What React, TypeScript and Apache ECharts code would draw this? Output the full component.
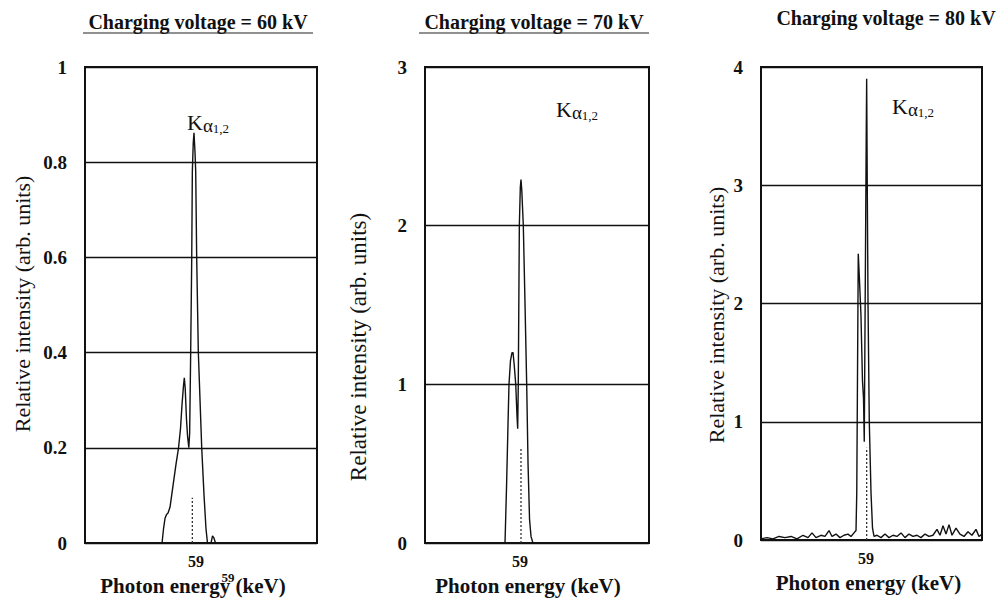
import React, { useEffect, useRef } from "react";
import * as echarts from "echarts";

const FONT = '"Liberation Serif", "Times New Roman", serif';

const titles = ["Charging voltage = 60 kV", "Charging voltage = 70 kV", "Charging voltage = 80 kV"];
const underlined = [true, true, false];
const yMax = [1, 3, 4];
const yInterval = [0.2, 1, 1];
const xMin = [44.2, 46.33, 45.0];
const xMax = [75.13, 76.2, 74.47];
const xTickValues = [59];
const xName = "Photon energy (keV)";
const yName = "Relative intensity (arb. units)";

// [photon energy (keV), relative intensity]
const spectrum60: number[][] = [
  [44.2, 0], [54.47, 0], [54.67, 0.03], [54.87, 0.052], [55.07, 0.06], [55.27, 0.063],
  [55.53, 0.075], [55.93, 0.12], [56.33, 0.165], [56.67, 0.2], [56.93, 0.24], [57.13, 0.29],
  [57.33, 0.33], [57.44, 0.347], [57.56, 0.325], [57.73, 0.26], [57.87, 0.225], [58.04, 0.2],
  [58.15, 0.23], [58.29, 0.4], [58.43, 0.6], [58.51, 0.78], [58.63, 0.84], [58.73, 0.862],
  [58.87, 0.82], [58.96, 0.78], [59.09, 0.6], [59.31, 0.4], [59.76, 0.2], [60.07, 0.1],
  [60.33, 0.03], [60.53, 0], [61.0, 0], [61.2, 0.015], [61.4, 0.01], [61.6, 0], [75.13, 0],
];
const spectrum70: number[][] = [
  [46.33, 0], [57.0, 0], [57.2, 0.35], [57.4, 0.75], [57.53, 1.0], [57.73, 1.15], [57.93, 1.2],
  [58.07, 1.2], [58.23, 1.12], [58.43, 1.0], [58.6, 0.8], [58.69, 0.72], [58.77, 1.0],
  [58.91, 2.0], [59.04, 2.24], [59.13, 2.29], [59.24, 2.22], [59.44, 2.0], [59.67, 1.5],
  [59.89, 1.0], [60.07, 0.5], [60.27, 0.15], [60.47, 0.04], [60.73, 0], [76.2, 0],
];
const spectrum80: number[][] = [
  [45.0, 0.01], [45.8, 0.02], [46.6, 0.01], [47.4, 0.03], [48.2, 0.02], [49.0, 0.03],
  [49.8, 0.01], [50.6, 0.04], [51.27, 0.02], [51.8, 0.06], [52.33, 0.02], [53.0, 0.04],
  [53.53, 0.03], [54.07, 0.08], [54.47, 0.03], [55.0, 0.05], [55.53, 0.02], [56.07, 0.04],
  [56.6, 0.05], [57.0, 0.03], [57.4, 0.06], [57.67, 0.08], [57.77, 0.4], [57.85, 1.2],
  [57.97, 2.42], [58.13, 2.2], [58.33, 1.9], [58.53, 1.35], [58.67, 1.2], [58.77, 0.83],
  [58.89, 2.0], [59.03, 3.4], [59.09, 3.9], [59.17, 3.0], [59.27, 2.0], [59.44, 1.0],
  [59.67, 0.4], [59.87, 0.1], [60.07, 0.03], [60.47, 0.04], [61.0, 0.02], [61.53, 0.05],
  [62.07, 0.02], [62.6, 0.04], [63.13, 0.03], [63.67, 0.06], [64.2, 0.02], [64.73, 0.05],
  [65.27, 0.03], [65.8, 0.04], [66.33, 0.02], [66.87, 0.05], [67.4, 0.03], [67.93, 0.04],
  [68.47, 0.09], [68.87, 0.04], [69.27, 0.12], [69.67, 0.05], [70.07, 0.13], [70.47, 0.04],
  [71.0, 0.1], [71.53, 0.05], [72.07, 0.03], [72.6, 0.07], [73.13, 0.04], [73.67, 0.09],
  [74.07, 0.03], [74.47, 0.05],
];
const marker60: number[][] = [[58.51, 0], [58.51, 0.095]];
const marker70: number[][] = [[59.13, 0], [59.13, 0.6]];
const marker80: number[][] = [[59.09, 0], [59.09, 0.78]];

const spectra = [spectrum60, spectrum70, spectrum80];
const markers = [marker60, marker70, marker80];

export default function App() {
  const ref = useRef<HTMLDivElement>(null);
  useEffect(() => {
    document.body.style.margin = "0";
    if (!ref.current) return;
    const chart = echarts.init(ref.current, null, { renderer: "svg" });

    const grids = [
      { left: 85, top: 67, width: 232, height: 476 },
      { left: 425, top: 67, width: 224, height: 476 },
      { left: 761, top: 67, width: 221, height: 473 },
    ];
    const xNamePad = [[0, 16, 0, 0], [0, 18, 0, 0], [0, 6, 0, 0]];
    const titleCenters = [198, 534, 886];
    const titleY = [22, 22, 18];
    const yNamePos = [[22, 304, 22], [358, 347, 23], [716, 315, 22]];
    const kPos = [[187, 122], [556, 109], [892, 106]];

    const graphic: any[] = [];
    titles.forEach((t, i) => {
      graphic.push({
        type: "text",
        x: titleCenters[i],
        y: titleY[i],
        style: {
          text: t, fontFamily: FONT, fontWeight: "bold", fontSize: 20,
          fill: "#111", align: "center", verticalAlign: "middle",
        },
      });
      if (underlined[i]) {
        graphic.push({
          type: "line",
          shape: { x1: titleCenters[i] - 115, y1: 33, x2: titleCenters[i] + 115, y2: 33 },
          style: { stroke: "#222", lineWidth: 1.2 },
        });
      }
      graphic.push({
        type: "text",
        x: yNamePos[i][0],
        y: yNamePos[i][1],
        rotation: Math.PI / 2,
        style: {
          text: yName, fontFamily: FONT, fontSize: yNamePos[i][2],
          fill: "#111", align: "center", verticalAlign: "middle",
        },
      });
      graphic.push({
        type: "text",
        x: kPos[i][0],
        y: kPos[i][1],
        style: {
          text: "{k|K}{a|α}{s|1,2}",
          fill: "#111",
          verticalAlign: "middle",
          rich: {
            k: { fontFamily: FONT, fontSize: 22, lineHeight: 26, verticalAlign: "middle", fill: "#111" },
            a: { fontFamily: FONT, fontSize: 19, lineHeight: 24, verticalAlign: "bottom", fill: "#111" },
            s: { fontFamily: FONT, fontSize: 13, lineHeight: 13, verticalAlign: "bottom", fill: "#111" },
          },
        },
      });
    });
    graphic.push({
      type: "text",
      x: 228,
      y: 577,
      style: {
        text: "59", fontFamily: FONT, fontWeight: "bold", fontSize: 13,
        fill: "#111", align: "center", verticalAlign: "middle",
      },
    });

    const option: any = {
      animation: false,
      backgroundColor: "#fff",
      grid: grids.map((g) => ({ ...g, show: true, borderColor: "#111", borderWidth: 2, backgroundColor: "transparent" })),
      xAxis: grids.map((_, i) => ({
        type: "value",
        gridIndex: i,
        min: xMin[i],
        max: xMax[i],
        axisLine: { show: false },
        axisTick: { show: false },
        splitLine: { show: false },
        axisLabel: {
          customValues: xTickValues,
          fontFamily: FONT, fontWeight: "bold", fontSize: 16, color: "#111", margin: 10,
        },
        name: xName,
        nameLocation: "middle",
        nameGap: 32,
        nameTextStyle: {
          fontFamily: FONT, fontWeight: "bold", fontSize: 21, color: "#111",
          padding: xNamePad[i],
        },
      })),
      yAxis: grids.map((_, i) => ({
        type: "value",
        gridIndex: i,
        min: 0,
        max: yMax[i],
        interval: yInterval[i],
        axisLine: { show: false },
        axisTick: { show: false },
        splitLine: { show: true, lineStyle: { color: "#111", width: 1.4 } },
        axisLabel: { fontFamily: FONT, fontWeight: "bold", fontSize: 19, color: "#111", margin: 18 },
      })),
      series: [
        ...spectra.map((d, i) => ({
          type: "line",
          xAxisIndex: i,
          yAxisIndex: i,
          data: d,
          showSymbol: false,
          symbol: "none",
          lineStyle: { color: "#111", width: 1.4 },
          z: 3,
        })),
        ...markers.map((d, i) => ({
          type: "line",
          xAxisIndex: i,
          yAxisIndex: i,
          data: d,
          showSymbol: false,
          symbol: "none",
          lineStyle: { color: "#333", width: 1.3, type: [2, 2] },
          z: 2,
        })),
      ],
      graphic,
    };
    chart.setOption(option);
    return () => chart.dispose();
  }, []);
  return <div ref={ref} style={{ width: 1006, height: 604 }} />;
}
